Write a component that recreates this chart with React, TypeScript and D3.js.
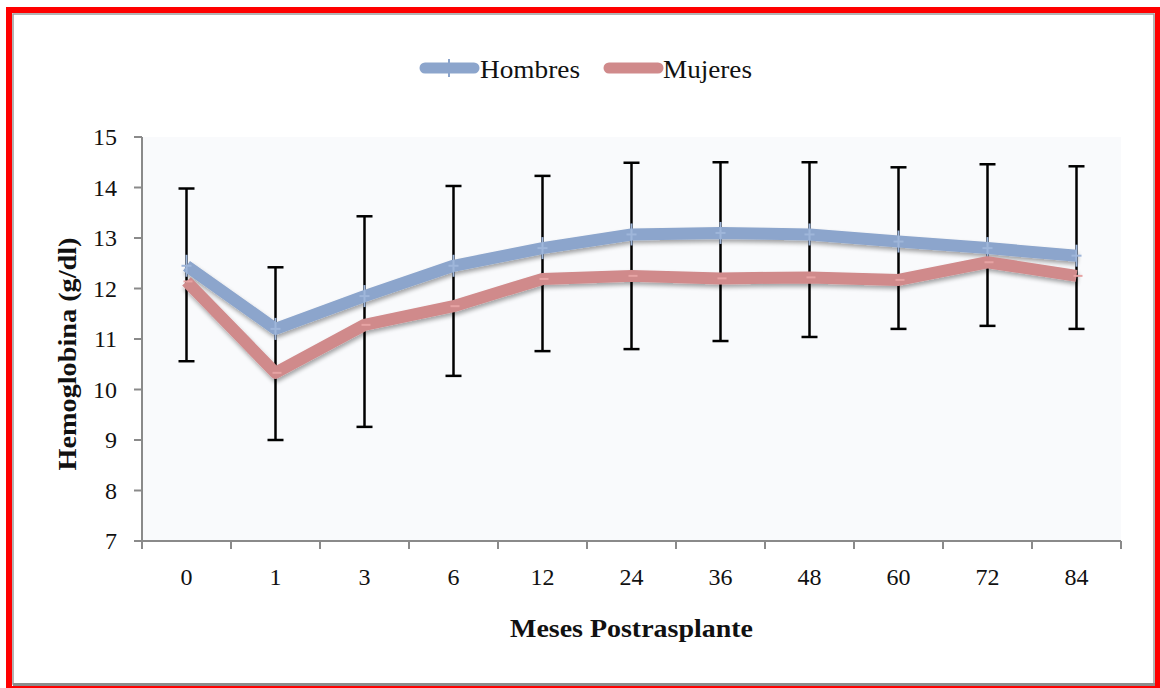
import React from 'react';
import * as d3 from 'd3';

// chart data
const months = ['0', '1', '3', '6', '12', '24', '36', '48', '60', '72', '84'];
const hombres = [12.45, 11.2, 11.85, 12.45, 12.8, 13.07, 13.1, 13.07, 12.93, 12.8, 12.65];
const mujeres = [12.14, 10.33, 11.28, 11.65, 12.19, 12.25, 12.2, 12.22, 12.17, 12.52, 12.25];
const errHigh = [13.98, 12.42, 13.43, 14.03, 14.23, 14.49, 14.5, 14.5, 14.4, 14.46, 14.42];
const errLow = [10.56, 9.0, 9.26, 10.27, 10.76, 10.8, 10.96, 11.04, 11.2, 11.26, 11.2];
const yTicks = [7, 8, 9, 10, 11, 12, 13, 14, 15];

const W = 1160;
const H = 688;
const margin = { top: 137, right: 39, bottom: 147, left: 142 };
const FONT = '"Liberation Serif", "DejaVu Serif", serif';
const BLUE = '#8ca5cc';
const PINK = '#d08a8b';

export default function App() {
  const innerW = W - margin.left - margin.right;
  const innerH = H - margin.top - margin.bottom;

  const x = d3.scaleBand<string>().domain(months).range([0, innerW]).padding(0);
  const y = d3.scaleLinear().domain([7, 15]).range([innerH, 0]);
  const cx = (m: string) => (x(m) ?? 0) + x.bandwidth() / 2;

  const line = d3.line<number>()
    .x((_, i) => cx(months[i]))
    .y(d => y(d));

  const series = [
    { name: 'Hombres', values: hombres, color: BLUE, marker: 'plus' },
    { name: 'Mujeres', values: mujeres, color: PINK, marker: 'dash' },
  ];

  return (
    <div style={{ position: 'absolute', left: 0, top: 0, width: W, height: H, background: '#fff' }}>
      <svg width={W} height={H} style={{ display: 'block' }}>
        <defs>
          <filter id="shadow" x="-5%" y="-20%" width="110%" height="160%">
            <feGaussianBlur in="SourceAlpha" stdDeviation="2" />
            <feOffset dx="1" dy="3" result="blur" />
            <feComponentTransfer><feFuncA type="linear" slope="0.35" /></feComponentTransfer>
            <feMerge>
              <feMergeNode />
              <feMergeNode in="SourceGraphic" />
            </feMerge>
          </filter>
        </defs>

        {/* frame */}
        <rect x={0} y={0} width={W} height={H} fill="#fff" />
        <rect x={13} y={14} width={1141} height={670} fill="none" stroke="#9a9a9a" strokeWidth={1.5} />
        <line x1={13} x2={1155} y1={684.5} y2={684.5} stroke="#8c8c8c" strokeWidth={3} />
        <rect x={9} y={10} width={1149} height={679} fill="none" stroke="#ff0000" strokeWidth={6} />

        {/* legend */}
        <g fontFamily={FONT} fontSize={25} fill="#111">
          <line x1={425} x2={474} y1={68} y2={68} stroke={BLUE} strokeWidth={11} strokeLinecap="round" />
          <line x1={449} x2={449} y1={59} y2={77} stroke={BLUE} strokeWidth={2} />
          <text x={480} y={78} textLength={100} lengthAdjust="spacingAndGlyphs">Hombres</text>
          <line x1={609} x2={658} y1={68} y2={68} stroke={PINK} strokeWidth={11} strokeLinecap="round" />
          <text x={663} y={78} textLength={89} lengthAdjust="spacingAndGlyphs">Mujeres</text>
        </g>

        <g transform={`translate(${margin.left},${margin.top})`}>
          <rect x={0} y={0} width={innerW} height={innerH} fill="#f9fafc" />

          {/* y axis */}
          <line x1={0} x2={0} y1={0} y2={innerH} stroke="#8a8a8a" strokeWidth={2} />
          {yTicks.map(t => (
            <g key={t} transform={`translate(0,${y(t)})`}>
              <line x1={-8} x2={0} stroke="#8a8a8a" strokeWidth={2} />
              <text x={-25} dy="0.35em" textAnchor="end" fontFamily={FONT} fontSize={24} fill="#111">{t}</text>
            </g>
          ))}

          {/* x axis */}
          <line x1={-8} x2={innerW} y1={innerH} y2={innerH} stroke="#8a8a8a" strokeWidth={2} />
          {months.map(m => (
            <line key={'t' + m} x1={x(m)} x2={x(m)} y1={innerH} y2={innerH + 8} stroke="#8a8a8a" strokeWidth={2} />
          ))}
          <line x1={innerW} x2={innerW} y1={innerH} y2={innerH + 8} stroke="#8a8a8a" strokeWidth={2} />
          {months.map(m => (
            <text key={'l' + m} x={cx(m)} y={innerH + 44} textAnchor="middle" fontFamily={FONT} fontSize={24} fill="#111">{m}</text>
          ))}

          {/* error bars */}
          {months.map((m, i) => (
            <g key={'e' + m} stroke="#000" strokeWidth={2.5}>
              <line x1={cx(m)} x2={cx(m)} y1={y(errHigh[i])} y2={y(errLow[i])} />
              <line x1={cx(m) - 8} x2={cx(m) + 8} y1={y(errHigh[i])} y2={y(errHigh[i])} />
              <line x1={cx(m) - 8} x2={cx(m) + 8} y1={y(errLow[i])} y2={y(errLow[i])} />
            </g>
          ))}

          {/* lines */}
          {series.map(s => (
            <g key={s.name}>
              <path d={line(s.values) || ''} fill="none" stroke={s.color} strokeWidth={12}
                strokeLinejoin="round" filter="url(#shadow)" />
              {s.values.map((v, i) => (
                s.marker === 'plus' ? (
                  <g key={i} stroke="#9fb6da" strokeWidth={2}>
                    <line x1={cx(months[i])} x2={cx(months[i])} y1={y(v) - 11} y2={y(v) + 11} />
                    <line x1={cx(months[i]) - 5} x2={cx(months[i]) + 5} y1={y(v)} y2={y(v)} />
                  </g>
                ) : (
                  <line key={i} x1={cx(months[i]) - 3} x2={cx(months[i]) + 6} y1={y(v)} y2={y(v)}
                    stroke="#e6a3a3" strokeWidth={2} />
                )
              ))}
            </g>
          ))}

          {/* axis titles */}
          <text x={innerW / 2} y={innerH + 96} textAnchor="middle" fontFamily={FONT} fontSize={25}
            fontWeight="bold" fill="#111" textLength={243} lengthAdjust="spacingAndGlyphs">Meses Postrasplante</text>
          <text transform={`translate(-66,${innerH / 2 + 15}) rotate(-90)`} textAnchor="middle" fontFamily={FONT}
            fontSize={25} fontWeight="bold" fill="#111" textLength={233}
            lengthAdjust="spacingAndGlyphs">Hemoglobina (g/dl)</text>
        </g>
      </svg>
    </div>
  );
}
